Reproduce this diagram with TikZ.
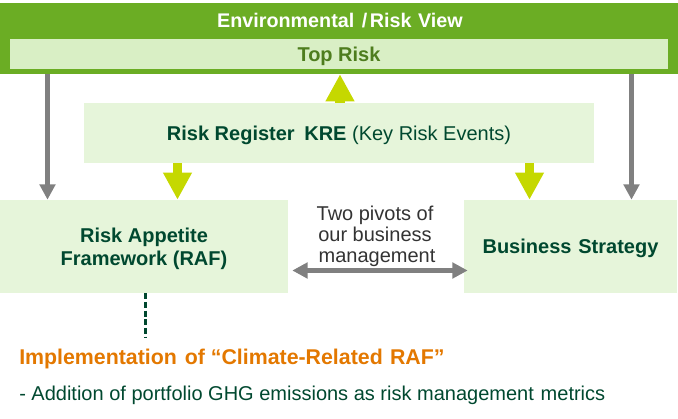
\documentclass[tikz,border=0pt]{standalone}
\usepackage{fontspec}
\setmainfont{Liberation Sans}
\usepackage{xcolor}
\usetikzlibrary{arrows.meta}
\definecolor{ColHead}{RGB}{107,173,36}
\definecolor{ColTop}{RGB}{217,239,197}
\definecolor{ColBox}{RGB}{230,245,218}
\definecolor{ColDark}{RGB}{0,72,47}
\definecolor{ColMoss}{RGB}{78,125,30}
\definecolor{ColOrange}{RGB}{227,120,0}
\definecolor{ColLime}{RGB}{197,216,0}
\definecolor{ColGray}{RGB}{128,128,128}
\tikzstyle{BoxPlain}=[rectangle,inner sep=0pt,fill=ColBox,text=ColDark,align=center,text depth=0pt,font=\fontsize{15}{17.5}\selectfont\bfseries]
\tikzstyle{TextPlain}=[inner sep=0pt,font=\fontsize{15}{15.8}\selectfont]
\tikzstyle{EdgeGray}=[ColGray,line width=3.8pt,-{Triangle[width=11.5pt,length=11.5pt]}]
\tikzstyle{EdgeTwin}=[ColGray,line width=3.8pt,{Triangle[width=11.5pt,length=11.5pt]}-{Triangle[width=11.5pt,length=11.5pt]}]
\tikzstyle{EdgeLime}=[ColLime,line width=6.8pt,-{Triangle[width=20.3pt,length=20.3pt]}]
\begin{document}
\begin{tikzpicture}[x=.75pt,y=-.75pt]
        \useasboundingbox(0,0)rectangle(678,418);
        \node[rectangle,inner sep=0pt,fill=ColHead,minimum width=508.5pt,minimum height=53.2pt](head)at(339,38.5){};
        \node[TextPlain,text=white,font=\fontsize{14.8}{16}\selectfont\bfseries](view)at(340,20.5){Environmental\hspace{1.5pt} /\hspace{2pt}Risk\hspace{.8pt} View};
        \node[BoxPlain,fill=ColTop,text=ColMoss,minimum width=493.5pt,minimum height=22.5pt](top)at(339,54){Top Risk};
        \node[BoxPlain,minimum width=382.5pt,minimum height=45pt](kre)at(339,133){Risk Register\hspace{3pt} KRE \textmd{(Key Risk Events)}};
        \node[BoxPlain,minimum width=216pt,minimum height=69.8pt](raf)at(144,246.5){Risk Appetite\\Framework (RAF)};
        \node[BoxPlain,minimum width=159.8pt,minimum height=69.8pt](biz)at(570.5,246.5){Business\hspace{1pt} Strategy};
        \node[TextPlain,text=black!80,align=center](pivot)at(375,236.5){Two pivots of\\our business\\\hspace{3pt}management};
        \node[TextPlain,anchor=west,text=ColOrange,font=\fontsize{16}{18}\selectfont\bfseries](impl)at(19,359){Implementation\hspace{1.5pt} of “Climate-Related\hspace{1pt} RAF”};
        \node[TextPlain,anchor=west,text=ColDark](ghg)at(19,395.5){- Addition of portfolio GHG emissions as risk management\hspace{1pt} metrics};
        \coordinate(xa)at(47.5,0);
        \coordinate(xb)at(631.5,0);
        \coordinate(xc)at(177.5,0);
        \coordinate(xd)at(529.5,0);
        \coordinate(xe)at(145.5,0);
        \coordinate(xf)at(340,0);
        \coordinate(ya)at(0,270.5);
        \coordinate(yb)at(0,337);
        \draw[EdgeGray](head.south-|xa)--(raf.north-|xa);
        \draw[EdgeGray](head.south-|xb)--(biz.north-|xb);
        \draw[EdgeLime](kre.south-|xc)--(raf.north-|xc);
        \draw[EdgeLime](kre.south-|xd)--(biz.north-|xd);
        \draw[EdgeLime](kre.north-|xf)--(head.south-|xf);
        \draw[EdgeTwin]([xshift=3pt]raf.east|-ya)--([xshift=3pt]biz.west|-ya);
        \draw[ColDark,line width=2.2pt,dash pattern=on 4.6pt off 1.9pt](raf.south-|xe)--(xe|-yb);
    \end{tikzpicture}
\end{document}
